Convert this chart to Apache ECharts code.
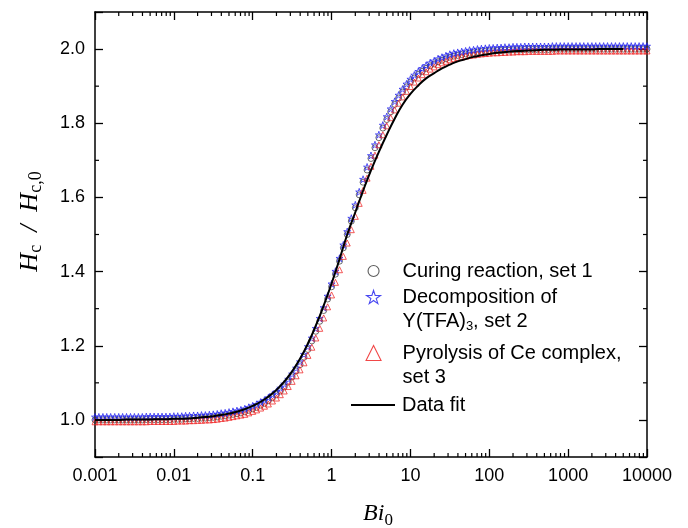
<!DOCTYPE html>
<html>
<head>
<meta charset="utf-8">
<title>Hc/Hc,0 vs Bi0</title>
<script src="https://cdn.jsdelivr.net/npm/echarts@6/dist/echarts.min.js"></script>
<style>
html, body { margin: 0; padding: 0; background: #fff; }
#chart { width: 688px; height: 528px; }
</style>
</head>
<body>
<div id="chart"></div>
<script>
// Bi0 values of the measured points
var bi = [
  0.001,0.00112,0.00126,0.00141,0.00158,0.00178,0.002,0.00224,0.00251,0.00282,0.00316,0.00355,0.00398,0.00447,0.00501,0.00562,0.00631,0.00708,0.00794,0.00891,
  0.01,0.0112,0.0126,0.0141,0.0158,0.0178,0.02,0.0224,0.0251,0.0282,0.0316,0.0355,0.0398,0.0447,0.0501,0.0562,0.0631,0.0708,0.0794,0.0891,
  0.1,0.112,0.126,0.141,0.158,0.178,0.2,0.224,0.251,0.282,0.316,0.355,0.398,0.447,0.501,0.562,0.631,0.708,0.794,0.891,
  1,1.12,1.26,1.41,1.58,1.78,2,2.24,2.51,2.82,3.16,3.55,3.98,4.47,5.01,5.62,6.31,7.08,7.94,8.91,
  10,11.2,12.6,14.1,15.8,17.8,20,22.4,25.1,28.2,31.6,35.5,39.8,44.7,50.1,56.2,63.1,70.8,79.4,89.1,
  100,112,126,141,158,178,200,224,251,282,316,355,398,447,501,562,631,708,794,891,
  1000,1120,1260,1410,1580,1780,2000,2240,2510,2820,3160,3550,3980,4470,5010,5620,6310,7080,7940,8910,
  10000
];
// Curing reaction, set 1
var set1 = [
  1.000,1.000,1.000,1.000,1.000,1.000,1.000,1.000,1.000,1.000,
  1.000,1.000,1.000,1.001,1.001,1.001,1.001,1.001,1.001,1.001,
  1.002,1.002,1.002,1.003,1.003,1.004,1.004,1.005,1.005,1.006,
  1.007,1.008,1.010,1.011,1.013,1.015,1.017,1.019,1.022,1.026,
  1.030,1.034,1.040,1.045,1.052,1.060,1.068,1.078,1.089,1.102,
  1.116,1.132,1.149,1.169,1.190,1.213,1.239,1.266,1.295,1.326,
  1.359,1.393,1.428,1.464,1.500,1.536,1.572,1.607,1.641,1.674,
  1.705,1.734,1.761,1.787,1.810,1.831,1.851,1.868,1.884,1.898,
  1.911,1.922,1.932,1.940,1.948,1.955,1.960,1.966,1.970,1.974,
  1.978,1.981,1.983,1.985,1.987,1.989,1.990,1.992,1.993,1.994,
  1.995,1.995,1.996,1.996,1.997,1.997,1.998,1.998,1.998,1.999,
  1.999,1.999,1.999,1.999,1.999,1.999,2.000,2.000,2.000,2.000,
  2.000,2.000,2.000,2.000,2.000,2.000,2.000,2.000,2.000,2.000,
  2.000,2.000,2.000,2.000,2.000,2.000,2.000,2.000,2.000,2.000,
  2.000
];
// Decomposition of Y(TFA)3, set 2
var set2 = [
  1.008,1.008,1.008,1.008,1.008,1.008,1.008,1.008,1.008,1.008,
  1.008,1.008,1.008,1.009,1.009,1.009,1.009,1.009,1.009,1.009,
  1.010,1.010,1.010,1.011,1.011,1.012,1.012,1.013,1.013,1.014,
  1.015,1.016,1.018,1.019,1.021,1.023,1.025,1.027,1.030,1.034,
  1.038,1.042,1.048,1.053,1.060,1.068,1.076,1.086,1.097,1.110,
  1.124,1.140,1.157,1.177,1.198,1.221,1.247,1.274,1.303,1.334,
  1.367,1.401,1.436,1.472,1.508,1.544,1.580,1.615,1.649,1.682,
  1.713,1.742,1.769,1.795,1.818,1.839,1.859,1.876,1.892,1.906,
  1.919,1.930,1.940,1.948,1.956,1.963,1.968,1.974,1.978,1.982,
  1.986,1.989,1.991,1.993,1.995,1.997,1.998,2.000,2.001,2.002,
  2.003,2.003,2.004,2.004,2.005,2.005,2.006,2.006,2.006,2.007,
  2.007,2.007,2.007,2.007,2.007,2.007,2.008,2.008,2.008,2.008,
  2.008,2.008,2.008,2.008,2.008,2.008,2.008,2.008,2.008,2.008,
  2.008,2.008,2.008,2.008,2.008,2.008,2.008,2.008,2.008,2.008,
  2.008
];
// Pyrolysis of Ce complex, set 3
var set3 = [
  0.995,0.995,0.995,0.995,0.995,0.995,0.995,0.995,0.995,0.995,
  0.995,0.995,0.995,0.995,0.996,0.996,0.996,0.996,0.996,0.996,
  0.996,0.997,0.997,0.997,0.998,0.998,0.999,0.999,1.000,1.000,
  1.001,1.002,1.004,1.005,1.007,1.009,1.011,1.013,1.015,1.019,
  1.023,1.027,1.032,1.037,1.043,1.051,1.059,1.068,1.078,1.090,
  1.104,1.119,1.135,1.154,1.174,1.196,1.221,1.247,1.275,1.305,
  1.337,1.371,1.405,1.441,1.477,1.513,1.549,1.584,1.619,1.652,
  1.684,1.714,1.742,1.769,1.793,1.815,1.836,1.854,1.871,1.886,
  1.899,1.911,1.922,1.931,1.939,1.946,1.952,1.958,1.963,1.967,
  1.971,1.974,1.977,1.979,1.981,1.983,1.984,1.986,1.987,1.988,
  1.989,1.990,1.990,1.991,1.991,1.992,1.992,1.993,1.993,1.993,
  1.994,1.994,1.994,1.994,1.994,1.994,1.994,1.995,1.995,1.995,
  1.995,1.995,1.995,1.995,1.995,1.995,1.995,1.995,1.995,1.995,
  1.995,1.995,1.995,1.995,1.995,1.995,1.995,1.995,1.995,1.995,
  1.995
];
// data fit
var fitBi = [
  0.001,0.00126,0.00158,0.002,0.00251,0.00316,0.00398,0.00501,0.00631,0.00794,
  0.01,0.0126,0.0158,0.02,0.0251,0.0316,0.0398,0.0501,0.0631,0.0794,
  0.1,0.126,0.158,0.2,0.251,0.316,0.398,0.501,0.631,0.794,
  1,1.26,1.58,2,2.51,3.16,3.98,5.01,6.31,7.94,
  10,12.6,15.8,20,25.1,31.6,39.8,50.1,63.1,79.4,
  100,126,158,200,251,316,398,501,631,794,
  1000,1260,1580,2000,2510,3160,3980,5010
];
var fitY = [
  1.000,1.000,1.000,1.000,1.001,1.001,1.001,1.001,1.002,1.002,
  1.003,1.003,1.004,1.006,1.008,1.010,1.013,1.017,1.022,1.029,
  1.038,1.049,1.063,1.081,1.103,1.131,1.165,1.206,1.254,1.308,
  1.368,1.433,1.500,1.560,1.618,1.673,1.723,1.769,1.812,1.850,
  1.879,1.902,1.921,1.935,1.948,1.958,1.967,1.973,1.979,1.983,
  1.987,1.990,1.992,1.994,1.995,1.996,1.997,1.998,1.998,1.999,
  1.999,1.999,1.999,1.999,2.000,2.000,2.000,2.000
];
// axis ticks
var xTickLabels = ['0.001', '0.01', '0.1', '1', '10', '100', '1000', '10000'];
var xMinor = [
  0.002,0.003,0.004,0.005,0.006,0.007,0.008,0.009,
  0.02,0.03,0.04,0.05,0.06,0.07,0.08,0.09,
  0.2,0.3,0.4,0.5,0.6,0.7,0.8,0.9,
  2,3,4,5,6,7,8,9,
  20,30,40,50,60,70,80,90,
  200,300,400,500,600,700,800,900,
  2000,3000,4000,5000,6000,7000,8000,9000
];
var yMinor = [1.1, 1.3, 1.5, 1.7, 1.9];

var names = ['Curing reaction, set 1', 'Decomposition of Y(TFA)3, set 2', 'Pyrolysis of Ce complex, set 3', 'Data fit'];

var sans = 'Liberation Sans';
var serif = 'Liberation Serif';
var starPath = 'path://M50,2 L61.2,36.6 L97.6,36.6 L68.2,58 L79.4,92.6 L50,71.2 L20.6,92.6 L31.8,58 L2.4,36.6 L38.8,36.6 Z';

var chart = echarts.init(document.getElementById('chart'));

function pairs(xs, ys) {
  var out = [];
  for (var i = 0; i < xs.length; i++) {
    out.push([xs[i], ys[i]]);
  }
  return out;
}

//minor ticks on bottom and top
function xMinorRender(params, api) {
  var cs = params.coordSys;
  var p = api.coord([api.value(0), api.value(1)]);
  var st = { stroke: '#000', lineWidth: 1.2 };
  var b = cs.y + cs.height, t = cs.y;
  return {
    type: 'group',
    children: [
      { type: 'line', shape: { x1: p[0], y1: b, x2: p[0], y2: b - 4 }, style: st },
      { type: 'line', shape: { x1: p[0], y1: t, x2: p[0], y2: t + 4 }, style: st }
    ]
  };
}
//minor ticks on left and right
function yMinorRender(params, api) {
  var cs = params.coordSys;
  var p = api.coord([api.value(0), api.value(1)]);
  var st = { stroke: '#000', lineWidth: 1.2 };
  var l = cs.x, r = cs.x + cs.width;
  return {
    type: 'group',
    children: [
      { type: 'line', shape: { x1: l, y1: p[1], x2: l + 4, y2: p[1] }, style: st },
      { type: 'line', shape: { x1: r, y1: p[1], x2: r - 4, y2: p[1] }, style: st }
    ]
  };
}

// one legend per entry so each icon sits on the first text line
function makeLegend(name, label, cy, iconW, iconH, lines, icon) {
  var L = 24;
  var pad = lines == 2 ? L : 0;
  var h = lines * L + pad;
  var cx = 373;
  var left = icon ? 351 : cx - iconW / 2;
  var textPad = 402 - (left + iconW + 5);
  var item = { name: name };
  if (icon) item.icon = icon;
  return {
    data: [item],
    orient: 'vertical',
    left: left,
    top: cy - h / 2,
    padding: 0,
    itemWidth: iconW,
    itemHeight: iconH,
    selectedMode: false,
    itemStyle: { borderWidth: icon ? 0 : 1.1 },
    formatter: function () { return label; },
    textStyle: {
      fontFamily: sans,
      fontSize: 20,
      color: '#000',
      lineHeight: L,
      padding: [pad, 0, 0, textPad],
      rich: {
        a: { fontFamily: sans, fontSize: 20, lineHeight: L, color: '#000' },
        s: { fontFamily: sans, fontSize: 13, lineHeight: 10, verticalAlign: 'bottom', color: '#000' }
      }
    }
  };
}

var xCommon = {
  type: 'log',
  logBase: 10,
  min: 0.001,
  max: 10000,
  splitNumber: 7,
  axisLine: { show: true, onZero: false, lineStyle: { color: '#000', width: 1.5 } },
  axisTick: { show: true, inside: true, length: 8, lineStyle: { color: '#000', width: 1.3 } },
  splitLine: { show: false }
};
var yCommon = {
  type: 'value',
  min: 0.9,
  max: 2.1,
  splitNumber: 6,
  axisLine: { show: true, onZero: false, lineStyle: { color: '#000', width: 1.5 } },
  axisTick: { show: true, inside: true, length: 8, lineStyle: { color: '#000', width: 1.3 } },
  splitLine: { show: false }
};

var option = {
  backgroundColor: '#fff',
  animation: false,
  grid: { left: 95, right: 41, top: 12, bottom: 71, containLabel: false, outerBoundsMode: 'none' },
  legend: [
    makeLegend(names[0], 'Curing reaction, set 1', 271, 11, 11, 1),
    makeLegend(names[1], '{a|Decomposition of}\n{a|Y(TFA)}{s|3}{a|, set 2}', 297, 14, 14, 2),
    makeLegend(names[2], '{a|Pyrolysis of Ce complex,}\n{a|set 3}', 353, 15, 15, 2),
    makeLegend(names[3], 'Data fit', 405, 44, 2, 1, 'rect')
  ],
  xAxis: [
    Object.assign({}, xCommon, {
      position: 'bottom',
      axisLabel: {
        margin: 10,
        fontFamily: sans,
        fontSize: 18,
        color: '#000',
        formatter: function (v) {
          return xTickLabels[Math.round(Math.log10(v)) + 3];
        }
      },
      name: '{i|Bi}{s|0}',
      nameLocation: 'middle',
      nameGap: 42,
      nameTextStyle: {
        padding: [0, 0, 0, 14],
        rich: {
          i: { fontFamily: serif, fontStyle: 'italic', fontSize: 24, lineHeight: 30, color: '#000' },
          s: { fontFamily: serif, fontSize: 17, lineHeight: 12, verticalAlign: 'bottom', color: '#000' }
        }
      }
    }),
    Object.assign({}, xCommon, { position: 'top', axisLabel: { show: false } })
  ],
  yAxis: [
    Object.assign({}, yCommon, {
      position: 'left',
      axisLabel: {
        margin: 10,
        fontFamily: sans,
        fontSize: 18,
        color: '#000',
        formatter: function (v) {
          if (v < 0.95 || v > 2.05) return '';
          return v.toFixed(1);
        }
      },
      name: '{i|H}{s|c}{i|  /  }{i|H}{s|c,0}',
      nameLocation: 'middle',
      nameGap: 50,
      nameTextStyle: {
        padding: [0, 0, 0, 26],
        rich: {
          i: { fontFamily: serif, fontStyle: 'italic', fontSize: 26, lineHeight: 30, color: '#000' },
          s: { fontFamily: serif, fontSize: 18, lineHeight: 12, verticalAlign: 'bottom', color: '#000' }
        }
      }
    }),
    Object.assign({}, yCommon, { position: 'right', axisLabel: { show: false } })
  ],
  series: [
    {
      name: names[0],
      type: 'scatter',
      symbol: 'circle',
      symbolSize: 6,
      itemStyle: { color: 'rgba(0,0,0,0)', borderColor: '#333', borderWidth: 0.9 },
      data: pairs(bi, set1)
    },
    {
      name: names[1],
      type: 'scatter',
      symbol: starPath,
      symbolSize: 7,
      itemStyle: { color: 'rgba(0,0,0,0)', borderColor: '#1a1aee', borderWidth: 0.9 },
      data: pairs(bi, set2)
    },
    {
      name: names[2],
      type: 'scatter',
      symbol: 'triangle',
      symbolSize: 6,
      itemStyle: { color: 'rgba(0,0,0,0)', borderColor: '#ee1a1a', borderWidth: 0.9 },
      data: pairs(bi, set3)
    },
    {
      name: names[3],
      type: 'line',
      symbol: 'none',
      showSymbol: false,
      smooth: true,
      lineStyle: { color: '#000', width: 2 },
      itemStyle: { color: '#000' },
      data: pairs(fitBi, fitY),
      z: 5
    },
    {
      type: 'custom',
      silent: true,
      clip: false,
      renderItem: xMinorRender,
      data: xMinor.map(function (v) { return [v, 1.5]; }),
      z: 6
    },
    {
      type: 'custom',
      silent: true,
      clip: false,
      renderItem: yMinorRender,
      data: yMinor.map(function (v) { return [1, v]; }),
      z: 6
    }
  ]
};

chart.setOption(option);
</script>
</body>
</html>
